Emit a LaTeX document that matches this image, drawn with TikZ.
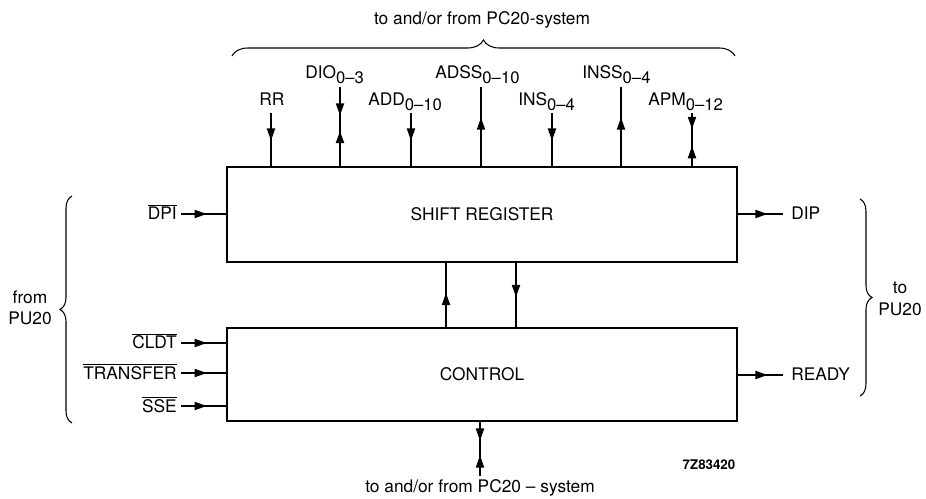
\documentclass[tikz,border=0pt]{standalone}
\usepackage{fontspec}
\setmainfont{TeX Gyre Heros}
\usetikzlibrary{calc,decorations.pathreplacing}
\newcommand{\sbs}[1]{\raisebox{-0.5ex}{\fontsize{12.5}{12.5}\selectfont #1}}
\newcommand{\ovl}[1]{$\overline{\mbox{#1}}$}
% filled arrowheads, tip at the given point
\newcommand{\tipD}[1]{\fill (#1) -- ++(-4.3,-12) -- ++(8.6,0) -- cycle;}
\newcommand{\tipU}[1]{\fill (#1) -- ++(-4.3,12) -- ++(8.6,0) -- cycle;}
\newcommand{\tipR}[1]{\fill (#1) -- ++(-12,-4.3) -- ++(0,8.6) -- cycle;}
\begin{document}
\begin{tikzpicture}[x=0.75pt,y=-0.75pt,
  every node/.style={font=\fontsize{13}{16}\selectfont, inner sep=0pt},
  blk/.style={draw, line width=1.8pt, minimum width=382.5pt, minimum height=71.25pt},
  sig/.style={line width=1.3pt},
  brc/.style={decorate, decoration={brace, amplitude=#1}, line width=0.8pt},
  lbl/.style={anchor=base west},
  lbr/.style={anchor=base east},
]
\useasboundingbox (0,0) rectangle (926,499);

% blocks
\node[blk] (sr) at (482,214.5) {SHIFT REGISTER};
\node[blk, minimum height=69.75pt] (ctl) at (482,374.5) {CONTROL};

% top signals
\coordinate (rr) at (271,113);
\coordinate (dio) at (340,87);
\coordinate (add) at (411,113);
\coordinate (adss) at (481,87);
\coordinate (ins) at (552,113);
\coordinate (inss) at (621,87);
\coordinate (apm) at (692,113);
\foreach \c in {rr,dio,add,adss,ins,inss,apm}
  \draw[sig] (\c) -- (\c |- sr.north);
\tipD{$(rr)!0.52!(rr |- sr.north)$}
\tipD{$(dio)!0.36!(dio |- sr.north)$}
\tipU{$(dio)!0.56!(dio |- sr.north)$}
\tipD{$(add)!0.52!(add |- sr.north)$}
\tipU{$(adss |- sr.north)!0.61!(adss)$}
\tipD{$(ins)!0.52!(ins |- sr.north)$}
\tipU{$(inss |- sr.north)!0.61!(inss)$}
\tipD{$(apm)!0.3!(apm |- sr.north)$}
\tipU{$(apm)!0.63!(apm |- sr.north)$}

\node[lbl] (lrr) at (259,106) {RR};
\node[lbl] (ldio) at (305,79) {DIO\sbs{0–3}};
\node[lbl] (ladd) at (368,106) {ADD\sbs{0–10}};
\node[lbl] (ladss) at (435,79) {ADSS\sbs{0–10}};
\node[lbl] (lins) at (518,106) {INS\sbs{0–4}};
\node[lbl] (linss) at (582,79) {INSS\sbs{0–4}};
\node[lbl] (lapm) at (648,106) {APM\sbs{0–12}};

% top brace and text
\draw[brc=12pt] (232,56) -- (735,56);
\node[anchor=base] (toptxt) at (482,25) {to and/or from PC20-system};

% left inputs
\coordinate (dpi) at (181,214);
\coordinate (cldt) at (181,343);
\coordinate (trf) at (181,373);
\coordinate (sse) at (181,406);
\draw[sig] (dpi) -- (dpi -| sr.west);
\tipR{$(dpi)!0.57!(dpi -| sr.west)$}
\foreach \c in {cldt,trf,sse}{
  \draw[sig] (\c) -- (\c -| ctl.west);
  \tipR{$(\c)!0.57!(\c -| ctl.west)$}
}
\node[lbr] (ldpi) at (177,220) {\ovl{DPI}};
\node[lbr] (lcldt) at (177,349) {\ovl{CLDT}};
\node[lbr] (ltrf) at (177,379) {\ovl{TRANSFER}};
\node[lbr] (lsse) at (177,412) {\ovl{SSE}};
\draw[brc=9pt] (72,423) -- (72,196);
\node[align=center] (from) at (30,308) {from\\PU20};

% right outputs
\coordinate (dip) at (783,214);
\coordinate (rdy) at (783,375);
\draw[sig] (dip -| sr.east) -- (dip);
\tipR{$(dip -| sr.east)!0.65!(dip)$}
\draw[sig] (rdy -| ctl.east) -- (rdy);
\tipR{$(rdy -| ctl.east)!0.65!(rdy)$}
\node[lbl] (ldip) at (791,220) {DIP};
\node[lbl] (lrdy) at (791,381) {READY};
\draw[brc=9pt] (860,199) -- (860,396);
\node[align=center] (to) at (900,299) {to\\PU20};

% between blocks
\coordinate (m1) at (446,300);
\coordinate (m2) at (516,300);
\draw[sig] (m1 |- ctl.north) -- (m1 |- sr.south);
\tipU{$(m1 |- ctl.north)!0.53!(m1 |- sr.south)$}
\draw[sig] (m2 |- sr.south) -- (m2 |- ctl.north);
\tipD{$(m2 |- sr.south)!0.53!(m2 |- ctl.north)$}

% bottom
\coordinate (bot) at (480,476);
\draw[sig] (bot |- ctl.south) -- (bot);
\tipD{$(bot |- ctl.south)!0.34!(bot)$}
\tipU{$(bot |- ctl.south)!0.62!(bot)$}
\node[anchor=base] (bottxt) at (480,493) {to and/or from PC20 – system};

\node[font=\fontsize{10}{11}\selectfont\bfseries] (code) at (709,465) {7Z83420};
\end{tikzpicture}
\end{document}
